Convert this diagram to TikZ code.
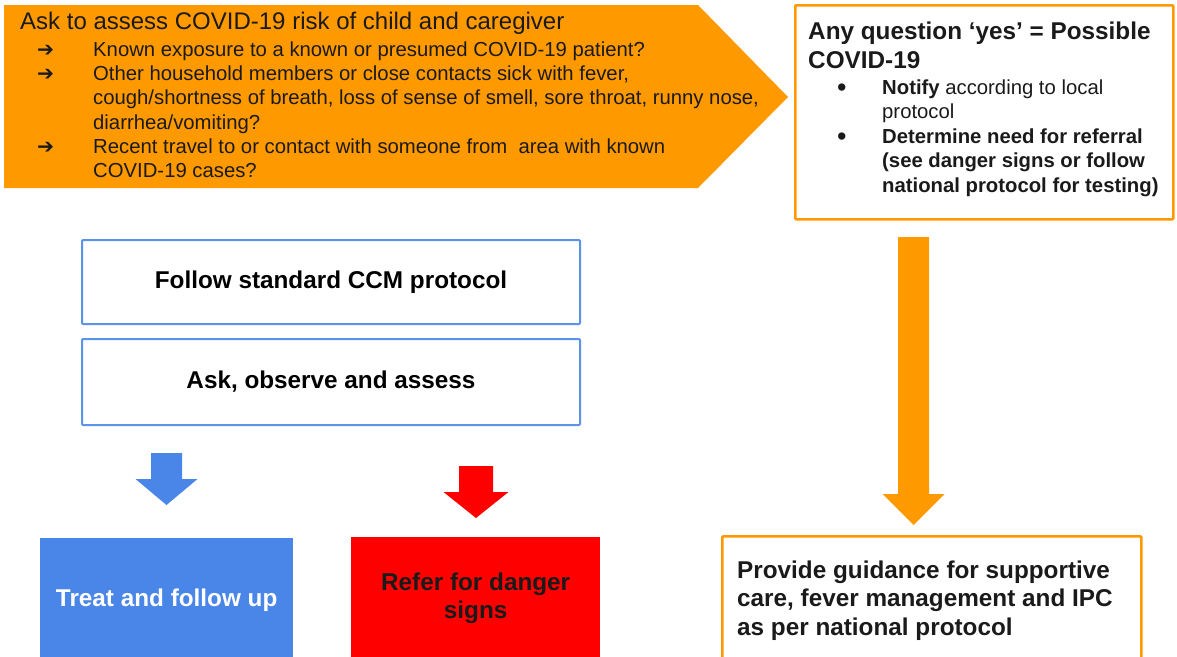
\documentclass[tikz,border=0pt]{standalone}
\usepackage{fontspec}
\setmainfont{Liberation Sans}
\newfontfamily\symfont{DejaVu Sans}
\usetikzlibrary{positioning}

\definecolor{gorange}{HTML}{FF9900}
\definecolor{gblue}{HTML}{4A86E8}
\definecolor{gred}{HTML}{FF0000}
\definecolor{lineblue}{HTML}{5B92EA}
\definecolor{ink}{HTML}{1A1A1A}

% fat down arrow: colour, centre x, top, neck, tip, half shaft, half head
\newcommand{\fatarrow}[7]{%
  \fill[#1] (#2-#6,#3) -- (#2+#6,#3) -- (#2+#6,#4) -- (#2+#7,#4)
    -- (#2,#5) -- (#2-#7,#4) -- (#2-#6,#4) -- cycle;}
\newcommand{\headline}[1]{{\fontsize{24.3}{29}\selectfont\bfseries #1}}
\newcommand{\dotitem}{\hspace*{29pt}\makebox[45pt][l]{\raisebox{-2.5pt}{\fontsize{27}{0}\selectfont•}}}

\tikzset{
  stepbox/.style={draw=lineblue, line width=2pt, rounded corners=1pt,
    minimum width=498pt, font=\fontsize{24.3}{29}\selectfont\bfseries},
  notebox/.style={draw=gorange, line width=2.5pt, rounded corners=1pt,
    anchor=north west},
  boxtext/.style={anchor=north west, align=left, inner sep=0pt, text=ink},
  fillbox/.style={anchor=north west, align=center, inner sep=0pt,
    font=\fontsize{24.3}{28}\selectfont\bfseries},
}

\begin{document}
\begin{tikzpicture}[x=1pt,y=-1pt]
\clip (0,0) rectangle (1177,656);

% risk assessment chevron
\fill[gorange] (4,5) -- (698,5) -- (788,97) -- (698,188) -- (4,188) -- cycle;
\node[boxtext, font=\fontsize{20.3}{24.3}\selectfont] (risk) at (20,11.8)
  {{\fontsize{24}{29}\selectfont Ask to assess COVID-19 risk of child and caregiver}\\[2.7pt]
   \hspace*{17pt}\makebox[56pt][l]{\symfont ➔}Known exposure to a known or presumed COVID-19 patient?\\
   \hspace*{17pt}\makebox[56pt][l]{\symfont ➔}Other household members or close contacts sick with fever,\\
   \hspace*{73pt}cough/shortness of breath, loss of sense of smell, sore throat, runny nose,\\
   \hspace*{73pt}diarrhea/vomiting?\\
   \hspace*{17pt}\makebox[56pt][l]{\symfont ➔}Recent travel to or contact with someone from\ \ area with known\\
   \hspace*{73pt}COVID-19 cases?};

% possible case box
\node[notebox, minimum width=378pt, minimum height=214pt] (note) at (794,4) {};
\node[boxtext, font=\fontsize{20.3}{24.5}\selectfont] (notetext) at (808,21.6)
  {\headline{Any question ‘yes’ {\char`=} Possible}\\[4.5pt]
   \headline{COVID-19}\\[1.5pt]
   \dotitem\textbf{Notify} according to local\\
   \hspace*{74pt}protocol\\
   \dotitem\textbf{Determine need for referral}\\
   \hspace*{74pt}\textbf{(see danger signs or follow}\\
   \hspace*{74pt}\textbf{national protocol for testing)}};

% CCM steps
\node[stepbox, minimum height=84pt] (ccm) at (331,282) {Follow standard CCM protocol};
\node[stepbox, minimum height=86pt, below=13pt of ccm] (assess) {Ask, observe and assess};

\fatarrow{gblue}{166.5}{453}{479}{505}{15.5}{31}
\fatarrow{gred}{476}{466}{492}{518}{17}{32.5}
\fatarrow{gorange}{913.5}{237}{494}{525}{15.5}{31}

% outcomes
\node[fillbox, fill=gblue, text=white, minimum width=253pt, minimum height=124pt]
  (treat) at (40,538) {Treat and follow up};
\node[fillbox, fill=gred, text=ink, minimum width=249pt, minimum height=122pt]
  (refer) at (351,537) {Refer for danger\\signs};
\node[notebox, minimum width=419pt, minimum height=140pt] (guide) at (721,535) {};
\node[boxtext, font=\fontsize{24.3}{28.5}\selectfont\bfseries] (guidetext) at (737,560.6)
  {Provide guidance for supportive\\care, fever management and IPC\\as per national protocol};
\end{tikzpicture}
\end{document}
